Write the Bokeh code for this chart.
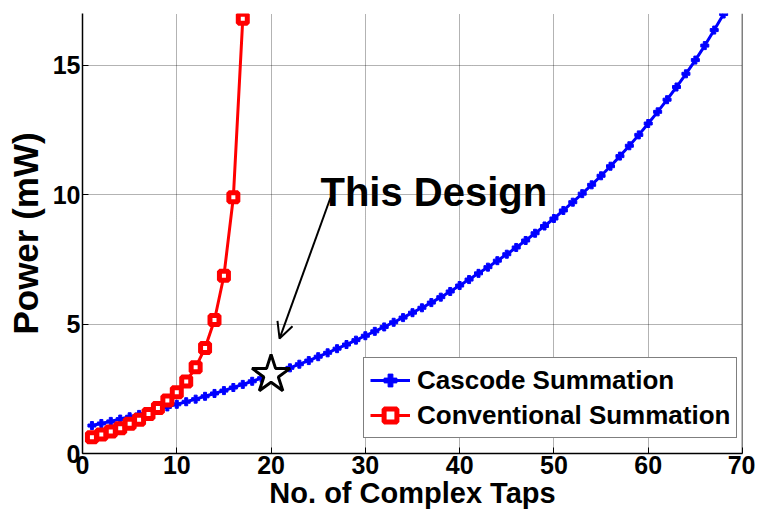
from bokeh.plotting import figure
from bokeh.models import (Range1d, FixedTicker, Arrow, OpenHead, Span, Label,
                          Legend, LegendItem)
from bokeh.embed import file_html
from bokeh.resources import INLINE

# ---- data ----
taps_cascode = list(range(1, 69))
power_cascode = [
    1.08, 1.16, 1.24, 1.33, 1.42, 1.51, 1.60, 1.70, 1.80, 1.90,
    2.00, 2.10, 2.21, 2.32, 2.43, 2.55, 2.67, 2.79, 2.91, 3.04,
    3.17, 3.31, 3.45, 3.59, 3.74, 3.89, 4.05, 4.21, 4.38, 4.55,
    4.72, 4.89, 5.07, 5.25, 5.44, 5.63, 5.83, 6.04, 6.26, 6.49,
    6.72, 6.96, 7.20, 7.45, 7.70, 7.96, 8.23, 8.51, 8.79, 9.08,
    9.39, 9.71, 10.04, 10.38, 10.73, 11.10, 11.49, 11.89, 12.31, 12.75,
    13.20, 13.67, 14.16, 14.67, 15.20, 15.76, 16.36, 16.98,
]
taps_conv = list(range(1, 18))
power_conv = [0.63, 0.73, 0.85, 0.98, 1.15, 1.30, 1.53, 1.76, 2.05, 2.37,
              2.78, 3.33, 4.08, 5.16, 6.87, 9.90, 16.80]
x_ticks = [0, 10, 20, 30, 40, 50, 60, 70]
y_ticks = [0, 5, 10, 15]
design_taps = [20]
design_power = [3.05]
series_names = ["Cascode Summation", "Conventional Summation"]

p = figure(width=755, height=520, x_range=Range1d(0, 70), y_range=Range1d(0, 17),
           output_backend="svg", toolbar_location=None,
           min_border_left=82, min_border_right=13, min_border_top=13,
           min_border_bottom=67)
p.outline_line_color = None
p.background_fill_color = "white"

# axes
for ax in (p.xaxis[0], p.yaxis[0]):
    ax.axis_line_color = "black"
    ax.axis_line_width = 1.5
    ax.major_tick_in = 6
    ax.major_tick_out = 0
    ax.minor_tick_in = 0
    ax.minor_tick_out = 0
    ax.major_tick_line_color = "black"
    ax.major_label_text_color = "black"
    ax.major_label_text_font_style = "bold"
    ax.axis_label_text_font_style = "bold"
    ax.axis_label_text_color = "black"

p.xaxis.ticker = FixedTicker(ticks=x_ticks)
p.yaxis.ticker = FixedTicker(ticks=y_ticks)
p.xaxis.major_label_text_font = "Liberation Sans"
p.xaxis.major_label_text_font_size = "25px"
p.xaxis.major_label_standoff = 2
p.xaxis.axis_label = "No. of Complex Taps"
p.xaxis.axis_label_text_font = "Liberation Sans"
p.xaxis.axis_label_text_font_size = "29px"
p.xaxis.axis_label_standoff = 0

p.yaxis.major_label_text_font = "Liberation Sans"
p.yaxis.major_label_text_font_size = "25px"
p.yaxis.major_label_standoff = 2
p.yaxis.axis_label = "Power (mW)"
p.yaxis.axis_label_text_font = "Liberation Sans"
p.yaxis.axis_label_text_font_size = "35px"
p.yaxis.axis_label_standoff = 5

# grid
p.xgrid.ticker = FixedTicker(ticks=x_ticks)
p.ygrid.ticker = FixedTicker(ticks=y_ticks)
for g in (p.xgrid[0], p.ygrid[0]):
    g.grid_line_color = "black"
    g.grid_line_alpha = 0.6
    g.grid_line_dash = "1 1"
    g.grid_line_width = 1

p.add_layout(Span(location=70, dimension="height", line_color="black", line_width=1.5))

# series
bl = p.line(taps_cascode, power_cascode, line_color="#0000FF", line_width=3)
bm = p.scatter(taps_cascode, power_cascode, marker="plus", size=8,
               fill_color="#0000FF", line_color="#0000FF")
rl = p.line(taps_conv, power_conv, line_color="#FF0000", line_width=3)
rm = p.scatter(taps_conv, power_conv, marker="square", size=9, line_width=5,
               fill_color="white", line_color="#FF0000")

# design point
p.scatter(design_taps, design_power, marker="star", size=40, line_width=3,
          fill_color="white", line_color="black")

p.add_layout(Arrow(end=OpenHead(size=16, line_width=2, line_color="black"),
                   x_start=26.3, y_start=9.88, x_end=20.9, y_end=4.44,
                   line_width=2, line_color="black"))
p.add_layout(Label(x=25.24, y=10.12, text="This Design", text_font="Liberation Sans",
                   text_font_style="bold", text_font_size="40px",
                   text_baseline="alphabetic", text_color="black"))

legend = Legend(items=[LegendItem(label=series_names[0], renderers=[bl, bm]),
                       LegendItem(label=series_names[1], renderers=[rl, rm])],
                location=(281, 15))
legend.label_text_font = "Liberation Sans"
legend.label_text_font_style = "bold"
legend.label_text_font_size = "26px"
legend.label_text_color = "black"
legend.glyph_width = 40
legend.glyph_height = 32
legend.label_height = 32
legend.label_standoff = 7
legend.spacing = 3
legend.padding = 6
legend.margin = 0
legend.border_line_color = "black"
legend.border_line_width = 1.5
legend.background_fill_color = "white"
legend.background_fill_alpha = 1
p.add_layout(legend)

open("out.html", "w").write(file_html(p, INLINE))
